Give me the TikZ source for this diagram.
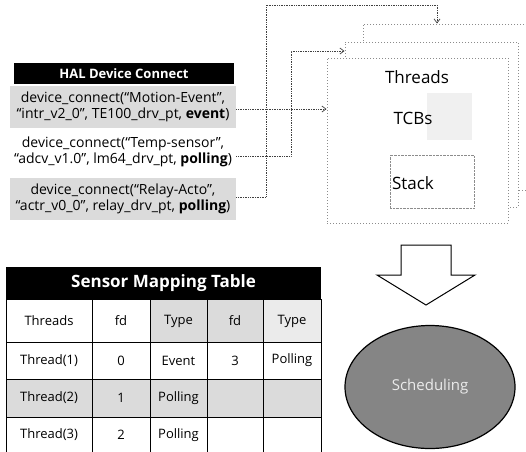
\documentclass[tikz,border=0pt]{standalone}
\usepackage{fontspec}
\setmainfont{Open Sans}
\usetikzlibrary{shapes.geometric,arrows.meta,calc}

\definecolor{halftone}{gray}{0.86}
\definecolor{halftonelight}{gray}{0.92}
\definecolor{framegray}{gray}{0.55}
\definecolor{ovalgray}{gray}{0.52}

\tikzset{
  hdr/.style={fill=black,text=white,font=\bfseries\fontsize{13}{15}\selectfont,inner sep=0pt},
  devrow/.style={minimum width=226pt,minimum height=42pt,inner sep=0pt,align=center,
                 font=\fontsize{14}{15.5}\selectfont},
  conn/.style={draw=black!75,densely dotted,line width=0.7pt,-{Straight Barb[length=4pt,width=6pt]}},
  stackframe/.style={draw=framegray,dotted,line width=1pt,fill=white,inner sep=0pt},
  paneltext/.style={font=\fontsize{17}{19}\selectfont},
  celltext/.style={font=\fontsize{13}{15}\selectfont,inner sep=0pt},
  gridline/.style={draw=black,line width=0.8pt},
}

\begin{document}
\begin{tikzpicture}[x=1pt,y=-1pt]
\useasboundingbox (0,0) rectangle (526,451);

% ---- HAL device connect list ----
\node[hdr,minimum width=220pt,minimum height=21pt] (hal) at (124,73.5) {HAL Device Connect};
\node[devrow,fill=halftone] (r1) at (123,107) {device\_connect(“Motion-Event”,\\ “intr\_v2\_0”, TE100\_drv\_pt, \textbf{event})};
\node[devrow] (r2) at (123,152) {device\_connect(“Temp-sensor”,\\ “adcv\_v1.0”, lm64\_drv\_pt, \textbf{polling})};
\node[devrow,fill=halftone] (r3) at (123,199) {device\_connect(“Relay-Acto”,\\ “actr\_v0\_0”, relay\_drv\_pt, \textbf{polling})};

% ---- stacked thread panels ----
\node[stackframe,minimum width=167pt,minimum height=166pt] (f3) at (446.5,107) {};
\node[stackframe,minimum width=173pt,minimum height=165pt] (f2) at (431.5,124.5) {};
\node[stackframe,minimum width=181pt,minimum height=165pt] (f1) at (417.5,140.5) {};

\fill[gray!12] (427,93) rectangle (472,140);
\node[paneltext] (threads) at (417,77) {Threads};
\node[paneltext] (tcbs) at (413,118) {TCBs};
\node[draw=framegray,densely dotted,minimum width=84pt,minimum height=53pt,inner sep=0pt] (stackbox) at (432,181.5) {};
\node[paneltext] (stack) at (413,183) {Stack};

% ---- connectors from the device list to the panels ----
\coordinate (k1) at (f1.west |- 0,109);
\coordinate (k2) at (f2.west |- 0,51);
\coordinate (k3) at (437,0 |- f3.north);
\draw[conn] (r1.east |- 0,109) -- (k1);
\draw[conn] (r2.east |- 0,156) -- (291,156) |- (k2);
\draw[conn] (r3.east |- 0,197) -- (266,197) |- (437,5) -- (k3);

% ---- down arrow ----
\draw[line width=1pt,fill=white] (401,245) -- (451,245) -- (451,275) -- (475,275)
  -- (426,305) -- (377,275) -- (401,275) -- cycle;

% ---- scheduling ----
\node[ellipse,draw=black,line width=1.2pt,fill=ovalgray,minimum width=170pt,minimum height=123pt,
      text=white!92!black,font=\fontsize{15}{17}\selectfont] (sched) at (430,387) {Scheduling};

% ---- sensor mapping table ----
\fill[halftone] (150,299) rectangle (263,342);
\fill[halftonelight] (263,299) rectangle (321,342);
\fill[halftone] (6,379) rectangle (321,417);
\node[hdr,minimum width=315pt,minimum height=32pt,font=\bfseries\fontsize{17}{19}\selectfont] (tabhead) at (163.5,283) {Sensor Mapping Table};
\foreach \x in {6,92,150,207,263,321} \draw[gridline] (\x,299) -- (\x,456);
\foreach \y in {299,342,379,417} \draw[gridline] (6,\y) -- (321,\y);

\node[celltext] (h1) at (49,321) {Threads};
\node[celltext] (h2) at (121,321) {fd};
\node[celltext] (h3) at (178.5,321) {Type};
\node[celltext] (h4) at (235,321) {fd};
\node[celltext] (h5) at (292,321) {Type};

\node[celltext] (a1) at (49,360.5) {Thread(1)};
\node[celltext] (a2) at (121,360.5) {0};
\node[celltext] (a3) at (178.5,360.5) {Event};
\node[celltext] (a4) at (235,360.5) {3};
\node[celltext] (a5) at (292,360.5) {Polling};

\node[celltext] (b1) at (49,398) {Thread(2)};
\node[celltext] (b2) at (121,398) {1};
\node[celltext] (b3) at (178.5,398) {Polling};

\node[celltext] (c1) at (49,435) {Thread(3)};
\node[celltext] (c2) at (121,435) {2};
\node[celltext] (c3) at (178.5,435) {Polling};
\end{tikzpicture}
\end{document}
